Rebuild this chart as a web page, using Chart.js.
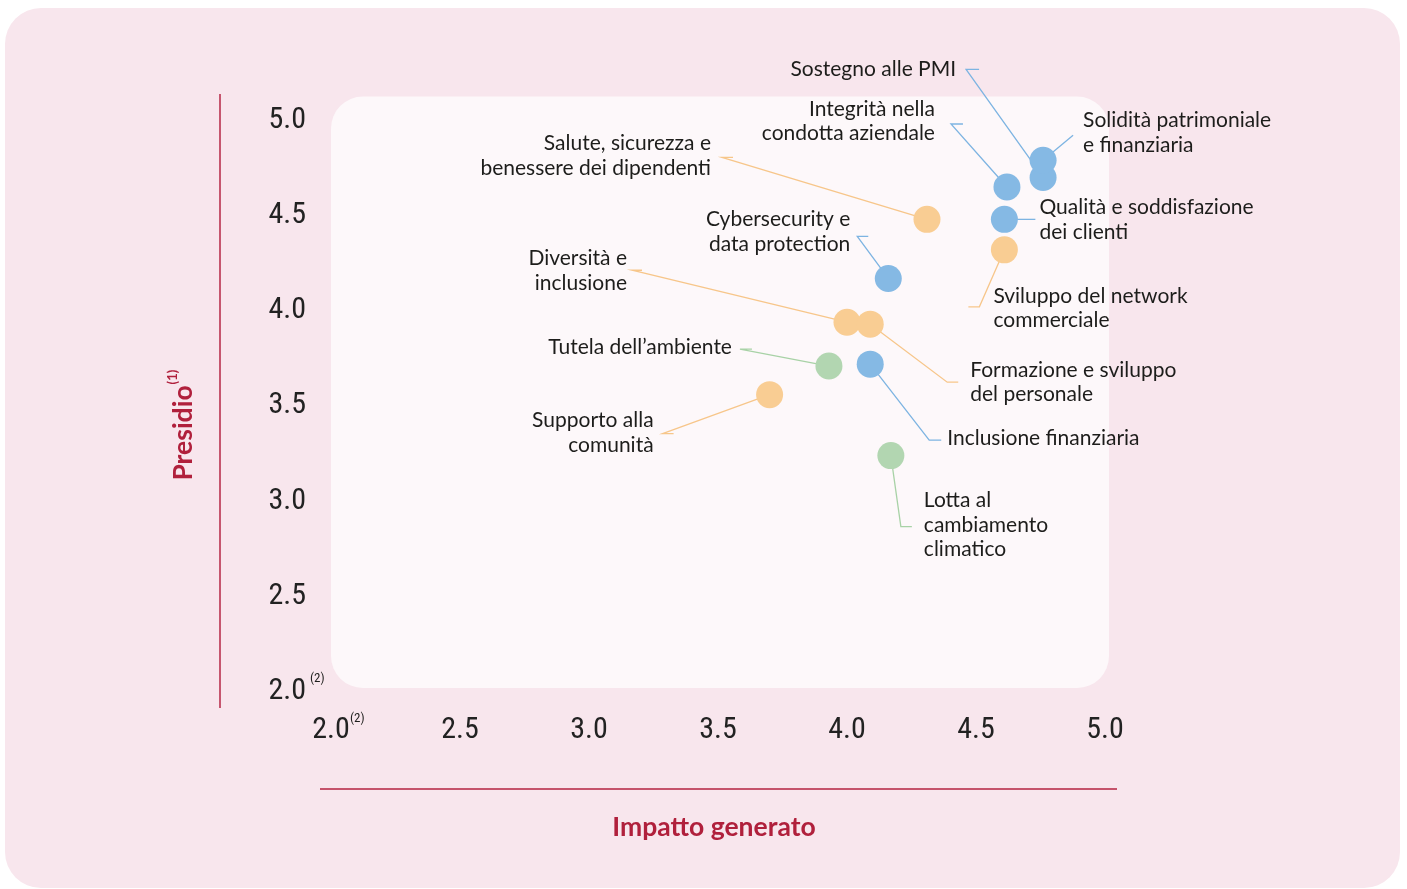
<!DOCTYPE html>
<html lang="it">
<head>
<meta charset="utf-8">
<script src="https://cdn.jsdelivr.net/npm/chart.js@4.4.0/dist/chart.umd.min.js"></script>
<style>
  html, body { margin: 0; padding: 0; background: #ffffff; }
  #wrap { position: relative; width: 1407px; height: 889px; }
</style>
</head>
<body>
<div id="wrap"><canvas id="materialita" width="1407" height="889"></canvas></div>
<script>
// temi materiali: impatto generato (x) e presidio (y)
var temi = [
    "Sostegno alle PMI",
    "Solidità patrimoniale e finanziaria",
    "Integrità nella condotta aziendale",
    "Qualità e soddisfazione dei clienti",
    "Sviluppo del network commerciale",
    "Salute, sicurezza e benessere dei dipendenti",
    "Cybersecurity e data protection",
    "Diversità e inclusione",
    "Formazione e sviluppo del personale",
    "Tutela dell'ambiente",
    "Inclusione finanziaria",
    "Supporto alla comunità",
    "Lotta al cambiamento climatico"
];
var impatto  = [4.76, 4.76, 4.62, 4.61, 4.61, 4.31, 4.16, 4.00, 4.09, 3.93, 4.09, 3.70, 4.17];
var presidio = [4.68, 4.77, 4.63, 4.46, 4.30, 4.46, 4.15, 3.92, 3.91, 3.69, 3.70, 3.54, 3.22];
var gruppo   = ["gov", "gov", "gov", "gov", "soc", "soc", "gov", "soc", "soc", "amb", "gov", "soc", "amb"];
var tickValori = [2.0, 2.5, 3.0, 3.5, 4.0, 4.5, 5.0];

var colori = { gov: "#85b9e4", soc: "#f9cd93", amb: "#b2d6b1" };
var coloriLinea = { gov: "#7db4e2", soc: "#f7c68a", amb: "#a8d2a6" };
var rosso = "#b0203c";

// etichette: testo su righe, allineamento, offset dal punto e spezzata di richiamo
var etichette = [
    { righe: ["Sostegno alle PMI"], align: "right", dx: -87, dy: -108, leader: [[-77, -108], [-64, -108]] },
    { righe: ["Solidità patrimoniale", "e finanziaria"], align: "left", dx: 40, dy: -40, leader: [[30, -25]] },
    { righe: ["Integrità nella", "condotta aziendale"], align: "right", dx: -72, dy: -78, leader: [[-56, -63], [-44, -63]] },
    { righe: ["Qualità e soddisfazione", "dei clienti"], align: "left", dx: 35, dy: -12, leader: [[31, 0]] },
    { righe: ["Sviluppo del network", "commerciale"], align: "left", dx: -11, dy: 46, leader: [[-25, 57], [-36, 57]] },
    { righe: ["Salute, sicurezza e", "benessere dei dipendenti"], align: "right", dx: -216, dy: -76, leader: [[-205, -62], [-194, -62]] },
    { righe: ["Cybersecurity e", "data protection"], align: "right", dx: -38, dy: -59, leader: [[-31, -42], [-20, -42]] },
    { righe: ["Diversità e", "inclusione"], align: "right", dx: -220, dy: -64, leader: [[-215, -52], [-205, -52]] },
    { righe: ["Formazione e sviluppo", "del personale"], align: "left", dx: 100, dy: 46, leader: [[77, 58], [88, 58]] },
    { righe: ["Tutela dell\u2019ambiente"], align: "right", dx: -97, dy: -19, leader: [[-89, -17], [-77, -17]] },
    { righe: ["Inclusione finanziaria"], align: "left", dx: 77, dy: 74, leader: [[59, 76], [71, 76]] },
    { righe: ["Supporto alla", "comunità"], align: "right", dx: -116, dy: 26, leader: [[-107, 39], [-96, 39]] },
    { righe: ["Lotta al", "cambiamento", "climatico"], align: "left", dx: 33, dy: 45, leader: [[10, 71], [21, 71]] }
];

var fontTick = "'Liberation Sans Narrow', 'Roboto Condensed', Roboto, sans-serif";

function puntiGruppo(g) {
    var out = [];
    for (var i = 0; i < temi.length; i++) {
        if (gruppo[i] === g) out.push({ x: impatto[i], y: presidio[i], tema: temi[i] });
    }
    return out;
}

function rettArrotondato(ctx, x, y, w, h, r) {
    ctx.beginPath();
    ctx.moveTo(x + r, y);
    ctx.lineTo(x + w - r, y);
    ctx.arcTo(x + w, y, x + w, y + r, r);
    ctx.lineTo(x + w, y + h - r);
    ctx.arcTo(x + w, y + h, x + w - r, y + h, r);
    ctx.lineTo(x + r, y + h);
    ctx.arcTo(x, y + h, x, y + h - r, r);
    ctx.lineTo(x, y + r);
    ctx.arcTo(x, y, x + r, y, r);
    ctx.closePath();
}

var decorazioni = {
    id: "decorazioni",
    beforeDraw: function (chart) {
        var ctx = chart.ctx;
        var xs = chart.scales.x, ys = chart.scales.y;
        ctx.save();
        // sfondo rosa
        ctx.fillStyle = "#f8e6ed";
        rettArrotondato(ctx, 5, 8, 1395, 880, 36);
        ctx.fill();
        // area del grafico
        var l = xs.getPixelForValue(2), r = xs.getPixelForValue(5) + 4;
        var t = ys.getPixelForValue(5) - 20, b = ys.getPixelForValue(2);
        ctx.fillStyle = "#fdf8fa";
        rettArrotondato(ctx, l, t, r - l, b - t, 32);
        ctx.fill();
        // assi
        ctx.strokeStyle = "#c6566f";
        ctx.lineWidth = 2;
        ctx.beginPath();
        ctx.moveTo(220, 94);
        ctx.lineTo(220, 708);
        ctx.stroke();
        ctx.strokeStyle = "#b5223f";
        ctx.lineWidth = 1.5;
        ctx.beginPath();
        ctx.moveTo(320, 789);
        ctx.lineTo(1117, 789);
        ctx.stroke();
        // titoli assi
        ctx.fillStyle = rosso;
        ctx.font = "bold 26.5px Lato";
        ctx.textAlign = "center";
        ctx.textBaseline = "middle";
        ctx.fillText("Impatto generato", 714, 827);
        ctx.translate(183, 424);
        ctx.rotate(-Math.PI / 2);
        ctx.textAlign = "left";
        var w = ctx.measureText("Presidio").width;
        var x0 = -(w + 18) / 2;
        ctx.fillText("Presidio", x0, 0);
        ctx.font = "bold 13px Lato";
        ctx.fillText("(1)", x0 + w + 1, -10);
        ctx.restore();

        // note (2) sui tick 2.0
        ctx.save();
        ctx.fillStyle = "#1d1d1b";
        ctx.font = "13px " + fontTick;
        ctx.textAlign = "left";
        ctx.textBaseline = "middle";
        ctx.fillText("(2)", 310, ys.getPixelForValue(2) - 9);
        ctx.fillText("(2)", xs.getPixelForValue(2) + 19, 719);
        ctx.restore();
    },
    beforeDatasetsDraw: function (chart) {
        var ctx = chart.ctx;
        var xs = chart.scales.x, ys = chart.scales.y;
        ctx.save();
        ctx.lineWidth = 1.3;
        for (var i = 0; i < temi.length; i++) {
            var px = xs.getPixelForValue(impatto[i]);
            var py = ys.getPixelForValue(presidio[i]);
            var e = etichette[i];
            ctx.strokeStyle = coloriLinea[gruppo[i]];
            ctx.beginPath();
            ctx.moveTo(px, py);
            for (var k = 0; k < e.leader.length; k++) {
                ctx.lineTo(px + e.leader[k][0], py + e.leader[k][1]);
            }
            ctx.stroke();
        }
        ctx.restore();
    },
    afterDatasetsDraw: function (chart) {
        var ctx = chart.ctx;
        var xs = chart.scales.x, ys = chart.scales.y;
        ctx.save();
        ctx.fillStyle = "#1d1d1b";
        ctx.font = "21px Lato";
        ctx.textBaseline = "middle";
        for (var i = 0; i < temi.length; i++) {
            var px = xs.getPixelForValue(impatto[i]);
            var py = ys.getPixelForValue(presidio[i]);
            var e = etichette[i];
            ctx.textAlign = e.align;
            for (var j = 0; j < e.righe.length; j++) {
                ctx.fillText(e.righe[j], px + e.dx, py + e.dy + j * 24.5);
            }
        }
        ctx.restore();
    }
};

function dataset(g, nome) {
    return {
        label: nome,
        data: puntiGruppo(g),
        backgroundColor: colori[g],
        borderWidth: 0,
        pointRadius: 13.5,
        pointHoverRadius: 13.5
    };
}

var ctx = document.getElementById("materialita");
new Chart(ctx, {
    type: "scatter",
    data: {
        datasets: [
            dataset("gov", "Governance ed economia"),
            dataset("soc", "Sociale"),
            dataset("amb", "Ambiente")
        ]
    },
    options: {
        responsive: false,
        animation: false,
        devicePixelRatio: 1,
        layout: { padding: { top: 116.5, right: 302, bottom: 0, left: 0 } },
        plugins: {
            legend: { display: false },
            tooltip: { enabled: false }
        },
        scales: {
            x: {
                type: "linear",
                min: 2,
                max: 5,
                afterFit: function (s) { s.height = 201; },
                afterBuildTicks: function (s) { s.ticks = tickValori.map(function (v) { return { value: v }; }); },
                grid: { display: false, drawTicks: false },
                border: { display: false },
                ticks: {
                    padding: 24.5,
                    color: "#222222",
                    font: { family: fontTick, size: 30 },
                    callback: function (v) { return Number(v).toFixed(1); }
                }
            },
            y: {
                type: "linear",
                min: 2,
                max: 5,
                afterFit: function (s) { s.width = 331; },
                afterBuildTicks: function (s) { s.ticks = tickValori.map(function (v) { return { value: v }; }); },
                grid: { display: false, drawTicks: false },
                border: { display: false },
                ticks: {
                    padding: 25,
                    labelOffset: 3.5,
                    color: "#222222",
                    font: { family: fontTick, size: 30 },
                    callback: function (v) { return Number(v).toFixed(1); }
                }
            }
        }
    },
    plugins: [decorazioni]
});
</script>
</body>
</html>
